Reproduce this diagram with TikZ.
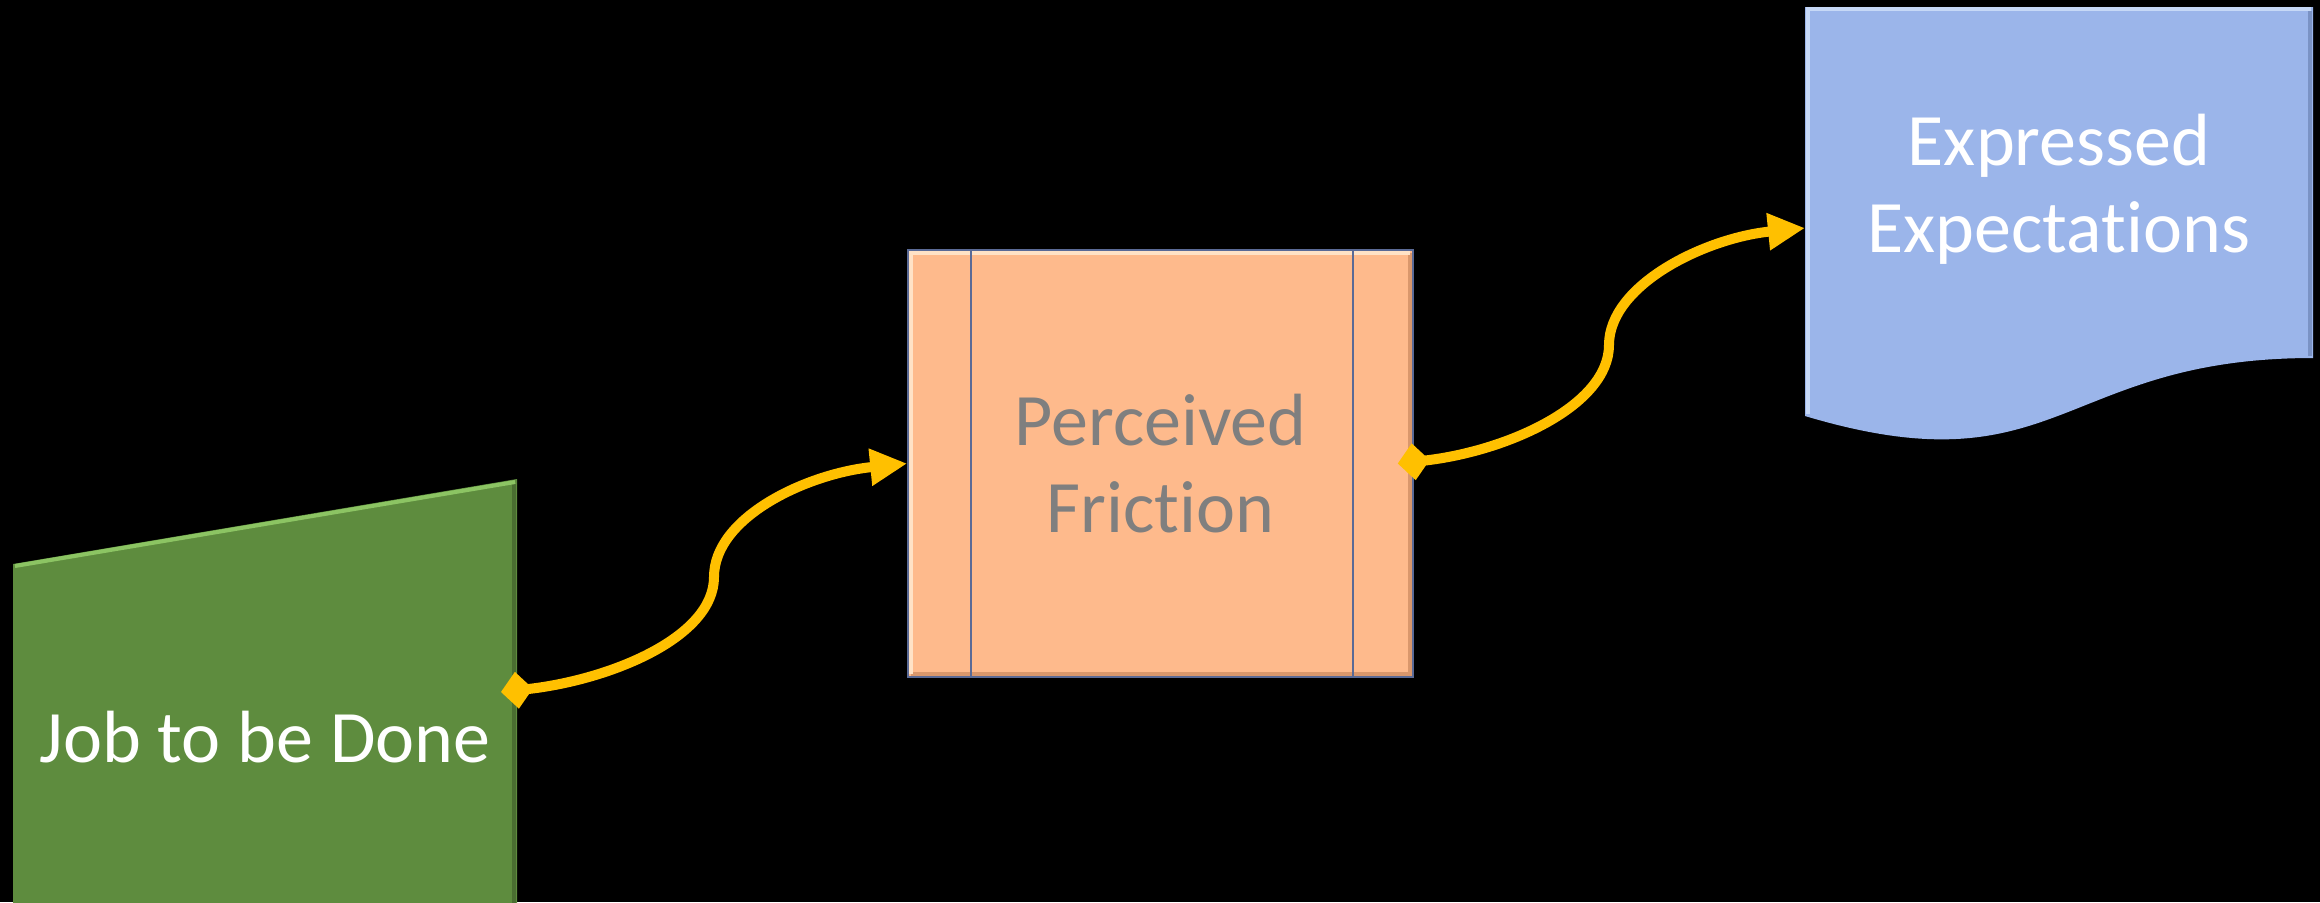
\documentclass[tikz,border=0pt]{standalone}
\usepackage{fontspec}
\setmainfont{Carlito}[Ligatures={NoCommon}]
\usetikzlibrary{arrows.meta}
\definecolor{jobgreen}{HTML}{5E8C3E}
\definecolor{jobgreenlt}{HTML}{8CC463}
\definecolor{jobgreendk}{HTML}{4A6E31}
\definecolor{fricfill}{HTML}{FEBA8C}
\definecolor{friclt}{HTML}{FFE2C6}
\definecolor{fricdk}{HTML}{D9976C}
\definecolor{fricline}{HTML}{5A6A96}
\definecolor{expfill}{HTML}{9BB5EA}
\definecolor{explt}{HTML}{C6D8F6}
\definecolor{expdk}{HTML}{7A92C4}
\definecolor{connyellow}{HTML}{FFC000}
\definecolor{textgray}{HTML}{7F7F7F}
\tikzset{
  bigtext/.style={font=\fontsize{37}{43.5}\selectfont, align=center, inner sep=0pt},
  connstart/.style={{Diamond[length=16pt,width=18.5pt]}-{Triangle[length=18.5pt,width=17.5pt]}, draw=connyellow, line width=5pt},
  innerline/.style={draw=fricline, line width=1.2pt},
  topedge/.style={line width=2pt},
  sideedge/.style={line width=2pt}
}
\begin{document}
\begin{tikzpicture}[x=0.5pt,y=-0.5pt]
\fill[black] (0,0) rectangle (2320,902);
\useasboundingbox (0,0) rectangle (2320,902);

% Job to be Done (manual input shape)
\fill[jobgreen] (13,564) -- (517,479) -- (517,904) -- (13,904) -- cycle;
\draw[jobgreendk, sideedge] (514,484) -- (514,904);
\draw[jobgreenlt, topedge] (15,566) -- (515,482);
\node[bigtext, text=white] (job) at (265,737) {Job to be Done};

% Perceived Friction (predefined process)
\node[draw=fricline, line width=0.8pt, fill=fricfill, minimum width=252.5pt,
      minimum height=213.5pt, inner sep=0pt] (fric) at (1160.5,463.5) {};
\draw[fricdk, sideedge] ([shift={(-2pt,-2pt)}]fric.north east) -- ([shift={(-2pt,2pt)}]fric.south east)
  -- ([shift={(2pt,2pt)}]fric.south west);
\draw[friclt, topedge] ([shift={(2pt,2pt)}]fric.south west) -- ([shift={(2pt,-2pt)}]fric.north west)
  -- ([shift={(-2pt,-2pt)}]fric.north east);
\draw[innerline] ([xshift=32pt]fric.north west) -- ([xshift=32pt]fric.south west);
\draw[innerline] ([xshift=-30.5pt]fric.north east) -- ([xshift=-30.5pt]fric.south east);
\node[bigtext, text=textgray] (fricText) at (fric.center) {Perceived\\Friction};

% Expressed Expectations (document shape)
\fill[expfill] (1805,7) -- (2313,7) -- (2313,358)
  .. controls (2059,358) and (2059,492) .. (1805,416) -- cycle;
\draw[expdk, sideedge] (2310,11) -- (2310,356);
\draw[explt, topedge] (1808,414) -- (1808,9) -- (2311,9);
\node[bigtext, text=white] (exp) at (2059,189) {Expressed\\Expectations};

% connectors
\coordinate (jobport) at (501,692);
\coordinate (m1) at (714,577);
\coordinate (m2) at (1609,345);
\coordinate (expport) at (1805,228);

\draw[connstart] (jobport) .. controls +(110,-12) and +(0,60) .. (m1)
  .. controls +(0,-60) and +(-100,10) .. (fric.west);
\draw[connstart] ([xshift=-8pt]fric.east) .. controls +(110,-12) and +(0,60) .. (m2)
  .. controls +(0,-60) and +(-100,10) .. (expport);
\end{tikzpicture}
\end{document}
